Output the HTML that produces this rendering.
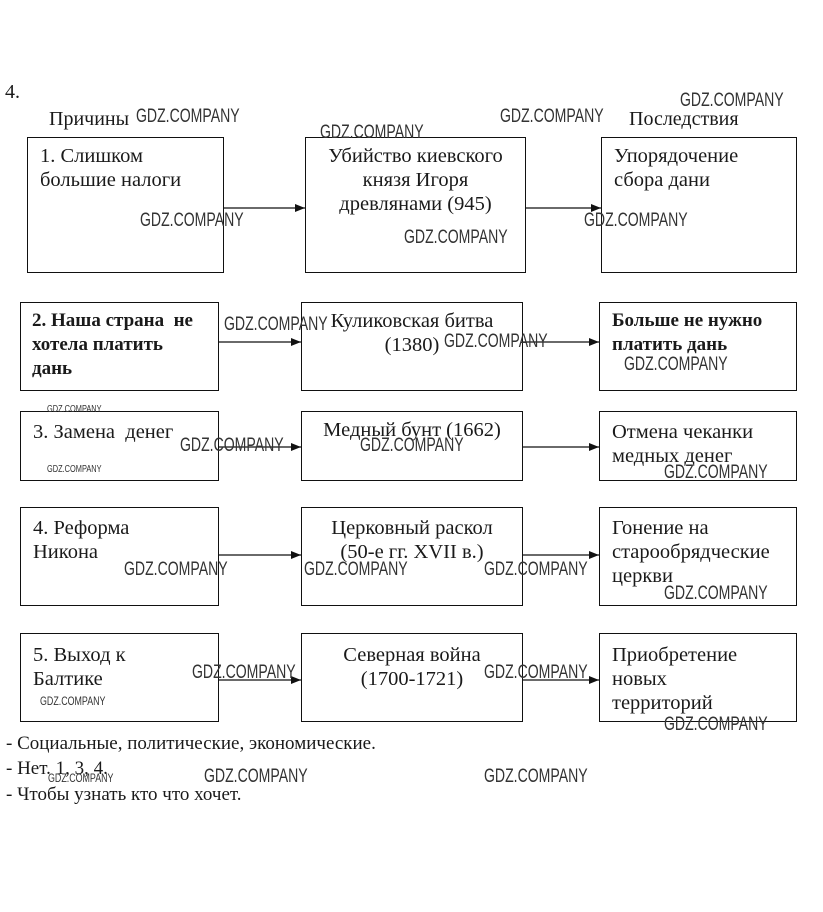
<!DOCTYPE html>
<html><head><meta charset="utf-8"><style>
html,body{margin:0;padding:0;background:#fff;}
body{width:823px;height:912px;position:relative;overflow:hidden;font-family:"Liberation Serif","DejaVu Serif",serif;color:#1a1a1a;}
.b{position:absolute;border:1.5px solid #111;box-sizing:border-box;font-size:20.5px;line-height:24px;padding:6px 12px;white-space:nowrap;}
.c{text-align:center;}
.t{position:absolute;font-size:20px;line-height:24px;white-space:nowrap;}
.w{position:absolute;font-family:"Liberation Sans Narrow","Liberation Sans",sans-serif;font-size:19px;color:#333;white-space:nowrap;transform:scaleX(0.74);transform-origin:left top;}
.ws{font-size:12px;}
svg{position:absolute;left:0;top:0;}
</style></head><body>
<div class="t" style="left:5px;top:80px;">4.</div>
<div class="t" style="left:49px;top:107px;">Причины</div>
<div class="t" style="left:629px;top:107px;">Последствия</div>

<div class="b" style="left:27px;top:137px;width:197px;height:136px;">1. Слишком<br>большие налоги</div>
<div class="b c" style="left:305px;top:137px;width:221px;height:136px;padding:6px 0;">Убийство киевского<br>князя Игоря<br>древлянами (945)</div>
<div class="b" style="left:601px;top:137px;width:196px;height:136px;">Упорядочение<br>сбора дани</div>

<div class="b" style="left:20px;top:302px;width:199px;height:89px;padding:6px 11px;font-weight:bold;font-size:19px;">2. Наша страна&nbsp; не<br>хотела платить<br>дань</div>
<div class="b c" style="left:301px;top:302px;width:222px;height:89px;padding:6px 0;">Куликовская битва<br>(1380)</div>
<div class="b" style="left:599px;top:302px;width:198px;height:89px;font-weight:bold;font-size:19px;">Больше не нужно<br>платить дань</div>

<div class="b" style="left:20px;top:411px;width:199px;height:70px;padding:8px 12px;">3. Замена&nbsp; денег</div>
<div class="b c" style="left:301px;top:411px;width:222px;height:70px;padding:6px 0;">Медный бунт (1662)</div>
<div class="b" style="left:599px;top:411px;width:198px;height:70px;padding:8px 12px;">Отмена чеканки<br>медных денег</div>

<div class="b" style="left:20px;top:507px;width:199px;height:99px;padding:8px 12px;">4. Реформа<br>Никона</div>
<div class="b c" style="left:301px;top:507px;width:222px;height:99px;padding:8px 0;">Церковный раскол<br>(50-е гг. XVII в.)</div>
<div class="b" style="left:599px;top:507px;width:198px;height:99px;padding:8px 12px;">Гонение на<br>старообрядческие<br>церкви</div>

<div class="b" style="left:20px;top:633px;width:199px;height:89px;padding:9px 12px;">5. Выход к<br>Балтике</div>
<div class="b c" style="left:301px;top:633px;width:222px;height:89px;padding:9px 0;">Северная война<br>(1700-1721)</div>
<div class="b" style="left:599px;top:633px;width:198px;height:89px;padding:9px 12px;">Приобретение<br>новых<br>территорий</div>

<div class="t" style="left:6px;top:732px;font-size:19px;">- Социальные, политические, экономические.</div>
<div class="t" style="left:6px;top:757px;font-size:19px;">- Нет. 1, 3, 4.</div>
<div class="t" style="left:6px;top:783px;font-size:19px;">- Чтобы узнать кто что хочет.</div>

<svg width="823" height="912">
<defs><marker id="a" markerWidth="10" markerHeight="8" refX="10" refY="4" orient="auto" markerUnits="userSpaceOnUse"><path d="M0,0 L10,4 L0,8z" fill="#111"/></marker></defs>
<g stroke="#111" stroke-width="1.3" marker-end="url(#a)">
<line x1="224" y1="208" x2="305" y2="208"/>
<line x1="526" y1="208" x2="601" y2="208"/>
<line x1="219" y1="342" x2="301" y2="342"/>
<line x1="523" y1="342" x2="599" y2="342"/>
<line x1="219" y1="447" x2="301" y2="447"/>
<line x1="523" y1="447" x2="599" y2="447"/>
<line x1="219" y1="555" x2="301" y2="555"/>
<line x1="523" y1="555" x2="599" y2="555"/>
<line x1="219" y1="680" x2="301" y2="680"/>
<line x1="523" y1="680" x2="599" y2="680"/>
</g></svg>

<div class="w" style="left:136px;top:106px;">GDZ.COMPANY</div>
<div class="w" style="left:500px;top:106px;">GDZ.COMPANY</div>
<div class="w" style="left:680px;top:90px;">GDZ.COMPANY</div>
<div class="w" style="left:320px;top:122px;">GDZ.COMPANY</div>
<div class="w" style="left:140px;top:210px;">GDZ.COMPANY</div>
<div class="w" style="left:404px;top:227px;">GDZ.COMPANY</div>
<div class="w" style="left:584px;top:210px;">GDZ.COMPANY</div>
<div class="w" style="left:224px;top:314px;">GDZ.COMPANY</div>
<div class="w" style="left:444px;top:331px;">GDZ.COMPANY</div>
<div class="w" style="left:624px;top:354px;">GDZ.COMPANY</div>
<div class="w ws" style="left:47px;top:404px;font-size:10px;">GDZ.COMPANY</div>
<div class="w ws" style="left:47px;top:464px;font-size:10px;">GDZ.COMPANY</div>
<div class="w" style="left:180px;top:435px;">GDZ.COMPANY</div>
<div class="w" style="left:360px;top:435px;">GDZ.COMPANY</div>
<div class="w" style="left:664px;top:462px;">GDZ.COMPANY</div>
<div class="w" style="left:124px;top:559px;">GDZ.COMPANY</div>
<div class="w" style="left:304px;top:559px;">GDZ.COMPANY</div>
<div class="w" style="left:484px;top:559px;">GDZ.COMPANY</div>
<div class="w" style="left:664px;top:583px;">GDZ.COMPANY</div>
<div class="w" style="left:192px;top:662px;">GDZ.COMPANY</div>
<div class="w" style="left:484px;top:662px;">GDZ.COMPANY</div>
<div class="w ws" style="left:40px;top:694px;">GDZ.COMPANY</div>
<div class="w" style="left:664px;top:714px;">GDZ.COMPANY</div>
<div class="w ws" style="left:48px;top:771px;">GDZ.COMPANY</div>
<div class="w" style="left:204px;top:766px;">GDZ.COMPANY</div>
<div class="w" style="left:484px;top:766px;">GDZ.COMPANY</div>
</body></html>
